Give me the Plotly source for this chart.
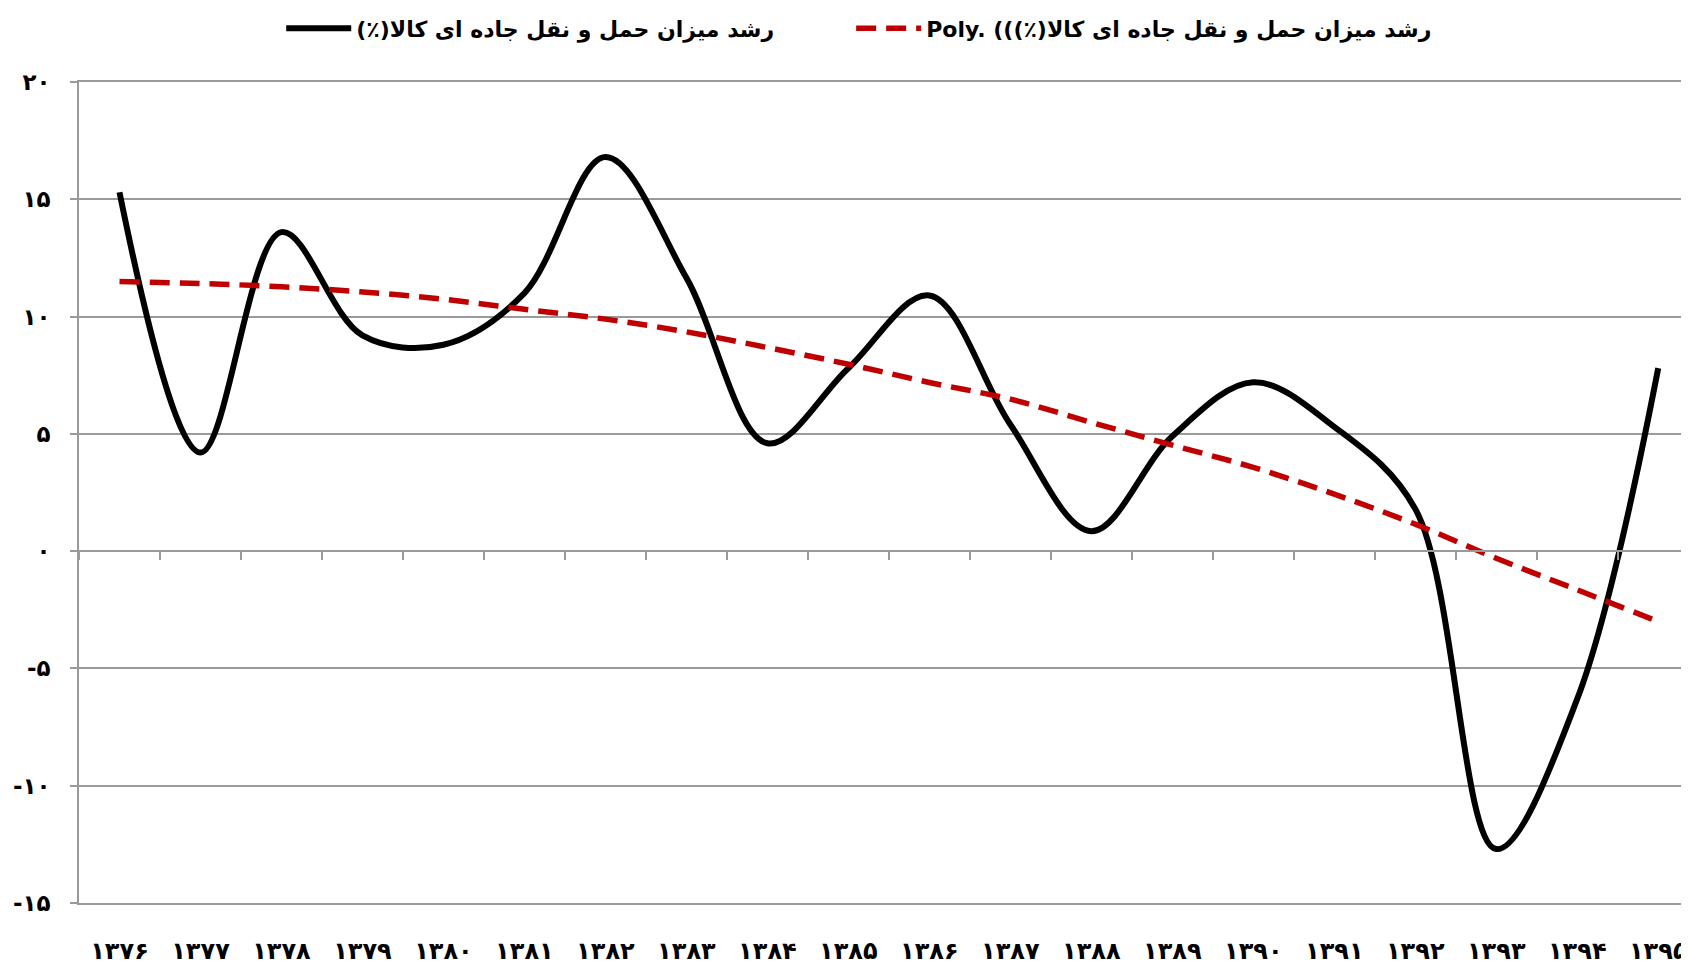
import plotly.graph_objects as go

years = ["۱۳۷۶", "۱۳۷۷", "۱۳۷۸", "۱۳۷۹", "۱۳۸۰", "۱۳۸۱", "۱۳۸۲", "۱۳۸۳", "۱۳۸۴", "۱۳۸۵",
         "۱۳۸۶", "۱۳۸۷", "۱۳۸۸", "۱۳۸۹", "۱۳۹۰", "۱۳۹۱", "۱۳۹۲", "۱۳۹۳", "۱۳۹۴", "۱۳۹۵"]
growth = [15.3, 4.2, 13.6, 9.2, 8.8, 11.0, 16.8, 11.65, 4.6, 7.8,
          10.9, 5.4, 0.85, 4.9, 7.2, 5.3, 1.8, -12.7, -6.3, 7.8]
trend = [11.49, 11.41, 11.27, 11.05, 10.74, 10.31, 9.89, 9.35, 8.68, 7.97,
         7.19, 6.48, 5.49, 4.52, 3.57, 2.43, 1.15, -0.3, -1.65, -3.0]

ytick_vals = [20, 15, 10, 5, 0, -5, -10, -15]
ytick_text = ["۲۰", "۱۵", "۱۰", "۵", "۰", "-۵", "-۱۰", "-۱۵"]

name_series = "رشد میزان حمل و نقل جاده ای کالا(٪)\u200f"
name_trend = "Poly. (((٪)رشد میزان حمل و نقل جاده ای کالا"

FONT = "DejaVu Sans"
GRID = "#9a9a9a"
LEG_FONT = dict(family=FONT, size=22, color="#000000", weight="bold")

fig = go.Figure()
fig.add_trace(go.Scatter(
    x=years, y=growth, mode="lines", name=name_series, legend="legend",
    line=dict(color="#000000", width=6, shape="spline", smoothing=1),
))
fig.add_trace(go.Scatter(
    x=years, y=trend, mode="lines", name=name_trend, legend="legend2",
    line=dict(color="#C00000", width=5.5, dash="20px,10px", shape="spline", smoothing=1),
))

# page body has an 8px margin, so the figure is sized/positioned to compensate
fig.update_layout(
    width=1681, height=958,
    margin=dict(l=71, r=0, t=74, b=63, autoexpand=False),
    paper_bgcolor="white", plot_bgcolor="white",
    font=dict(family=FONT, color="#000000"),
    showlegend=True,
    legend=dict(
        orientation="h", x=0.1256, xanchor="left",
        yref="container", y=0.9786, yanchor="middle",
        font=LEG_FONT, itemwidth=65, bgcolor="rgba(0,0,0,0)",
    ),
    legend2=dict(
        orientation="h", x=0.4796, xanchor="left",
        yref="container", y=0.9786, yanchor="middle",
        font=LEG_FONT, itemwidth=65, bgcolor="rgba(0,0,0,0)",
    ),
    xaxis=dict(
        type="category", range=[-0.5, 19.38], automargin=False,
        showgrid=False, zeroline=False,
        showline=True, linecolor=GRID, linewidth=1.5, mirror=True,
        ticks="", ticklabelstandoff=25,
        tickfont=dict(family=FONT, size=24, color="#000000", weight="bold"),
    ),
    xaxis2=dict(
        type="category", overlaying="x", matches="x", anchor="free", automargin=False,
        position=15 / 35, side="bottom",
        showgrid=False, zeroline=False, showticklabels=False,
        showline=True, linecolor=GRID, linewidth=1.5,
        ticks="outside", tickson="boundaries", ticklen=8, tickcolor=GRID, tickwidth=1.5,
    ),
    yaxis=dict(
        range=[-15, 20], tickvals=ytick_vals, ticktext=ytick_text, automargin=False,
        showgrid=True, gridcolor=GRID, gridwidth=1.5,
        zeroline=False,
        showline=True, linecolor=GRID, linewidth=1.5,
        ticks="outside", ticklen=7, tickcolor=GRID, tickwidth=1.5,
        ticklabelstandoff=15,
        tickfont=dict(family=FONT, size=23, color="#000000", weight="bold"),
    ),
)

# invisible helper so xaxis2 (ticks along the zero line) is drawn
fig.add_trace(go.Scatter(x=years, y=[None] * len(years), xaxis="x2", yaxis="y",
                         showlegend=False, hoverinfo="skip"))

fig.write_html("out.html")
